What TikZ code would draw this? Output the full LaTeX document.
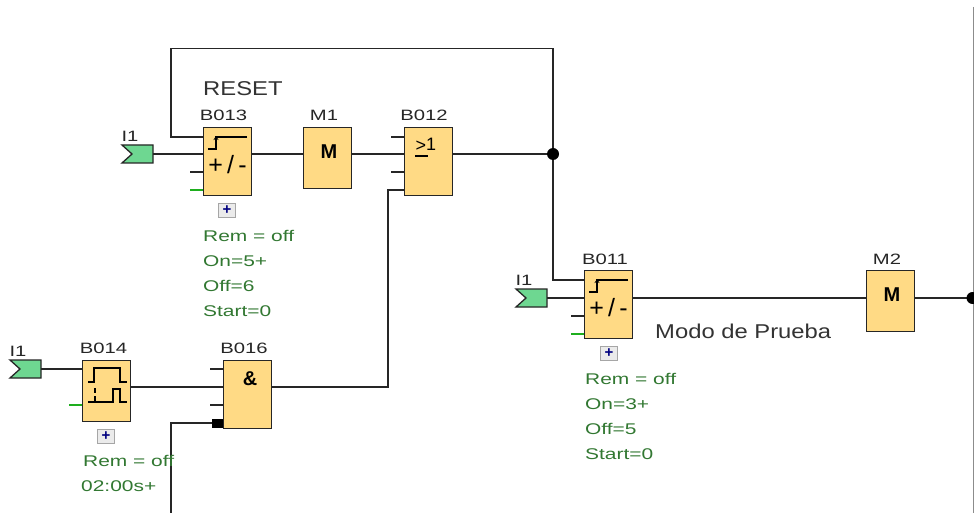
\documentclass[tikz,border=0pt]{standalone}
\usepackage{fontspec}
\setmainfont{Liberation Sans}
\newfontfamily\widefont[FakeStretch=1.35]{Liberation Sans}
\newfontfamily\notefont[FakeStretch=1.19]{Liberation Sans}
\usetikzlibrary{calc,arrows.meta}
\definecolor{blockfill}{RGB}{255,218,133}
\definecolor{inputfill}{RGB}{110,215,145}
\definecolor{paramgreen}{RGB}{50,120,50}
\tikzset{
    block/.style={draw=black!85,line width=1.4pt,fill=blockfill,minimum width=48pt,minimum height=68pt,inner sep=0pt,outer sep=0pt,anchor=north west},
    marker/.style={block,minimum height=61pt},
    wire/.style={draw=black!85,line width=1.3pt},
    stub/.style={draw=black!85,line width=1.3pt},
    greenstub/.style={draw=paramgreen!60!green,line width=1.2pt},
    symbol/.style={draw=black,line width=1.2pt},
    tag/.style={font=\widefont\fontsize{15}{17}\selectfont,inner sep=0pt,text=black!85},
    param/.style={font=\widefont\fontsize{15.5}{17}\selectfont,inner sep=0pt,text=paramgreen,anchor=west},
    note/.style={font=\notefont\fontsize{20}{22}\selectfont,inner sep=0pt,text=black!80,anchor=west},
    plusbox/.style={draw=black!35,fill=black!8,line width=1pt,minimum width=17pt,minimum height=14pt,inner sep=0pt,text=blue!50!black,font=\fontsize{15}{15}\selectfont\bfseries},
    dot/.style={circle,fill=black,minimum size=12pt,inner sep=0pt}
}
% one input flag, left tip notched
\newcommand{\inputflag}[3]{
    \path[draw=black!85,line width=1.3pt,fill=inputfill] (#2,#3) -- ++(31,0) -- ++(0,18) -- ++(-31,0) -- ++(10,-9) -- cycle;
    \coordinate (#1) at (#2+31,#3+9);
    \node[tag] at (#2+8,#3-9) {I1};
}
\newcommand{\plusmark}[3]{\node[plusbox] (#1) at (#2,#3) {+};}
\begin{document}
\begin{tikzpicture}[x=1pt,y=-1pt]
    \useasboundingbox (0,0) rectangle (974,513);
    \fill[white] (0,0) rectangle (974,513);
    \draw[black!45,line width=1pt] (973.5,7) -- (973.5,513);

    % blocks
    \node[block] (B013) at (203.5,127.5) {};
    \node[marker] (M1) at (303.5,127.5) {};
    \node[block] (B012) at (404.5,127.5) {};
    \node[marker] (B014) at (82.5,360.5) {};
    \node[block] (B016) at (223.5,360.5) {};
    \node[block] (B011) at (584.5,270.5) {};
    \node[marker] (M2) at (866.5,270.5) {};

    \node[tag] at (223.5,115) {B013};
    \node[tag] at (324,115) {M1};
    \node[tag] at (424,115) {B012};
    \node[tag] at (103.5,348) {B014};
    \node[tag] at (244,348) {B016};
    \node[tag] at (605,259) {B011};
    \node[tag] at (887,259) {M2};

    % inputs
    \inputflag{I1a}{122}{145}
    \inputflag{I1b}{10}{360}
    \inputflag{I1c}{516}{289}

    % free ends
    \coordinate (pinA) at (203,137);
    \coordinate (pinB) at (203,154);
    \coordinate (orA) at (404,154);
    \coordinate (orC) at (404,190);
    \coordinate (jun) at (553,154);
    \coordinate (pinC) at (584,280);
    \coordinate (pinD) at (584,298);
    \coordinate (andB) at (223,387);
    \coordinate (andD) at (215,423);
    \coordinate (bottom) at (171,513);
    \coordinate (rightend) at (972.5,298);

    % wires
    \draw[wire] (pinA) -- (171,137) -- (171,48.5) -- (553,48.5) -- (jun) -- (553,280) -- (pinC);
    \draw[wire] (I1a) -- (pinB);
    \draw[wire] (pinB -| B013.east) -- (M1.west |- pinB);
    \draw[wire] (M1.east |- pinB) -- (orA);
    \draw[wire] (orA -| B012.east) -- (jun);
    \draw[wire] (orC) -- (388,190) -- (388,387) -- (B016.east |- andB);
    \draw[wire] (I1b) -- (B014.west |- I1b);
    \draw[wire] (B014.east |- andB) -- (andB);
    \draw[wire] (bottom) -- (171,423) -- (andD);
    \draw[wire] (I1c) -- (pinD);
    \draw[wire] (pinD -| B011.east) -- (M2.west |- pinD);
    \draw[wire] (M2.east |- pinD) -- (rightend);
    \node[dot] (J1) at (jun) {};
    \node[dot] (J2) at (rightend) {};
    \fill[black] (212,419) rectangle (223,428);

    % unused pins
    \draw[stub] (190,172) -- (203,172);
    \draw[greenstub] (190,190) -- (203,190);
    \draw[stub] (391,137) -- (404,137);
    \draw[stub] (391,172) -- (404,172);
    \draw[greenstub] (69,405) -- (82,405);
    \draw[stub] (210,369) -- (223,369);
    \draw[stub] (210,405) -- (223,405);
    \draw[stub] (571,316) -- (584,316);
    \draw[greenstub] (571,334) -- (584,334);

    % symbols
    \foreach \px/\py in {203/128,584/271}{
        \draw[symbol] (\px+44,\py+9) -- (\px+13,\py+9) -- (\px+13,\py+21) -- (\px+5,\py+21);
        \draw[symbol,-{Stealth[length=4pt,width=5pt]}] (\px+13,\py+15) -- (\px+13,\py+8);
        \node[font=\fontsize{25}{25}\selectfont,inner sep=0pt] at (\px+24.5,\py+37) {+\,/\,-};
    }
    \node[font=\bfseries\fontsize{20}{20}\selectfont,inner sep=0pt] at (329,152) {M};
    \node[font=\bfseries\fontsize{20}{20}\selectfont,inner sep=0pt] at (892,295) {M};
    \node[font=\fontsize{18}{18}\selectfont,inner sep=0pt] at (421,146) {>};
    \node[font=\fontsize{18}{18}\selectfont,inner sep=0pt] at (431,144) {1};
    \draw[symbol] (415,156) -- (428,156);
    \node[font=\bfseries\fontsize{20}{20}\selectfont,inner sep=0pt] at (250,379) {\&};
    \draw[symbol] (88,382) -- (94,382) -- (94,368) -- (120,368) -- (120,382) -- (127,382);
    \draw[symbol] (88,402) -- (113,402) -- (113,389) -- (120,389) -- (120,402) -- (127,402);
    \draw[symbol] (95,388) -- (95,393) (95,396) -- (95,402);

    % plus marks
    \plusmark{P1}{227}{210.5}
    \plusmark{P2}{106}{436.5}
    \plusmark{P3}{609}{353.5}

    % parameters
    \node[param] at (203,236) {Rem = off};
    \node[param] at (203,261) {On=5+};
    \node[param] at (203,286) {Off=6};
    \node[param] at (203,311) {Start=0};
    \node[param] at (83,461) {Rem = off};
    \node[param] at (81,486) {02:00s+};
    \node[param] at (585,379) {Rem = off};
    \node[param] at (585,404) {On=3+};
    \node[param] at (585,429) {Off=5};
    \node[param] at (585,454) {Start=0};

    % notes
    \node[note] at (203,88.5) {RESET};
    \node[note] at (655,331) {Modo de Prueba};
\end{tikzpicture}
\end{document}
